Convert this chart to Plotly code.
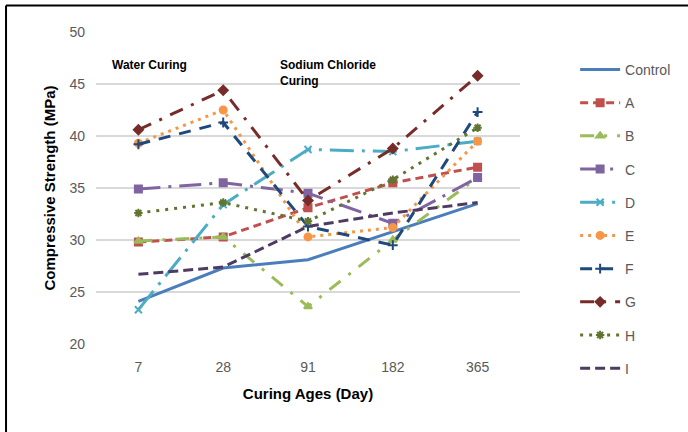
import plotly.graph_objects as go

ages = ["7", "28", "91", "182", "365"]
control = [24.1, 27.3, 28.1, 30.8, 33.5]
mix_a = [29.8, 30.3, 33.1, 35.5, 37.0]
mix_b = [29.9, 30.3, 23.6, 30.0, 36.0]
mix_c = [34.9, 35.5, 34.5, 31.6, 36.0]
mix_d = [23.3, 33.4, 38.7, 38.5, 39.5]
mix_e = [39.3, 42.5, 30.3, 31.2, 39.5]
mix_f = [39.2, 41.3, 31.3, 29.5, 42.3]
mix_g = [40.6, 44.4, 33.8, 38.8, 45.8]
mix_h = [32.6, 33.6, 31.8, 35.8, 40.8]
mix_i = [26.7, 27.4, 31.3, 32.6, 33.6]

series = [
    ("Control", control, "#4a7ebb", "solid", None),
    ("A", mix_a, "#c0504d", "8px,5px", "square"),
    ("B", mix_b, "#9bbb59", "14px,10px,3px,10px", "triangle-up"),
    ("C", mix_c, "#8064a2", "22px,8px,3px,8px", "square"),
    ("D", mix_d, "#4bacc6", "24px,8px,3px,8px", "x-thin-open"),
    ("E", mix_e, "#f79646", "3px,5px", "circle"),
    ("F", mix_f, "#1f497d", "12px,9px", "cross-thin-open"),
    ("G", mix_g, "#772c2a", "14px,9px,3px,9px", "diamond"),
    ("H", mix_h, "#5f7530", "3px,6px", "asterisk-open"),
    ("I", mix_i, "#4d3b62", "10px,5px", None),
]

fig = go.Figure()
for name, vals, color, dash, sym in series:
    mode = "lines+markers" if sym else "lines"
    marker = dict(symbol=sym or "circle", size=7, color=color,
                  line=dict(color=color, width=2))
    fig.add_trace(go.Scatter(
        x=ages, y=vals, name=name, mode=mode,
        line=dict(color=color, width=3, dash=dash),
        marker=marker, legendgroup=name,
    ))

fig.add_shape(type="line", xref="x", yref="paper", x0="28", x1="28",
              y0=-0.03, y1=1.04, line=dict(color="#4a7ebb", width=1.5, dash="6px,4px"))
# outer frame
fig.add_shape(type="line", xref="paper", yref="paper", x0=-0.2122, x1=-0.2122,
              y0=-0.4, y1=1.085, line=dict(color="black", width=2))
fig.add_shape(type="line", xref="paper", yref="paper", x0=-0.2122, x1=1.5,
              y0=1.085, y1=1.085, line=dict(color="black", width=2))

fig.add_annotation(text="<b>Water Curing</b>", xref="paper", yref="paper",
                   x=0.033, y=0.895, xanchor="left", yanchor="middle",
                   showarrow=False, font=dict(size=12, color="black"))
fig.add_annotation(text="<b>Sodium Chloride<br>Curing</b>", xref="paper", yref="paper",
                   x=0.43, y=0.87, xanchor="left", yanchor="middle", align="left",
                   showarrow=False, font=dict(size=12, color="black"))

fig.update_layout(
    width=688, height=432,
    margin=dict(l=96, r=168, t=32, b=88),
    paper_bgcolor="white", plot_bgcolor="white",
    font=dict(family="Liberation Sans, Arial, sans-serif", size=14, color="#595959"),
    showlegend=True,
    legend=dict(x=1.13, y=0.93, xanchor="left", yanchor="top",
                traceorder="grouped", tracegroupgap=12, maxheight=1000,
                font=dict(size=14, color="#595959"), itemwidth=40),
    xaxis=dict(type="category", range=[-0.5, 4.5], showgrid=False,
               showline=False, ticks="", ticklabelstandoff=13,
               title=dict(text="<b>Curing Ages (Day)</b>", standoff=14,
                          font=dict(size=15, color="black"))),
    yaxis=dict(range=[20, 50], dtick=5, showgrid=True, gridcolor="#d9d9d9",
               gridwidth=1.5, zeroline=False, showline=False, ticks="",
               ticklabelstandoff=10,
               title=dict(text="<b>Compressive Strength (MPa)</b>", standoff=10,
                          font=dict(size=15, color="black"))),
)

fig.write_html("out.html")
